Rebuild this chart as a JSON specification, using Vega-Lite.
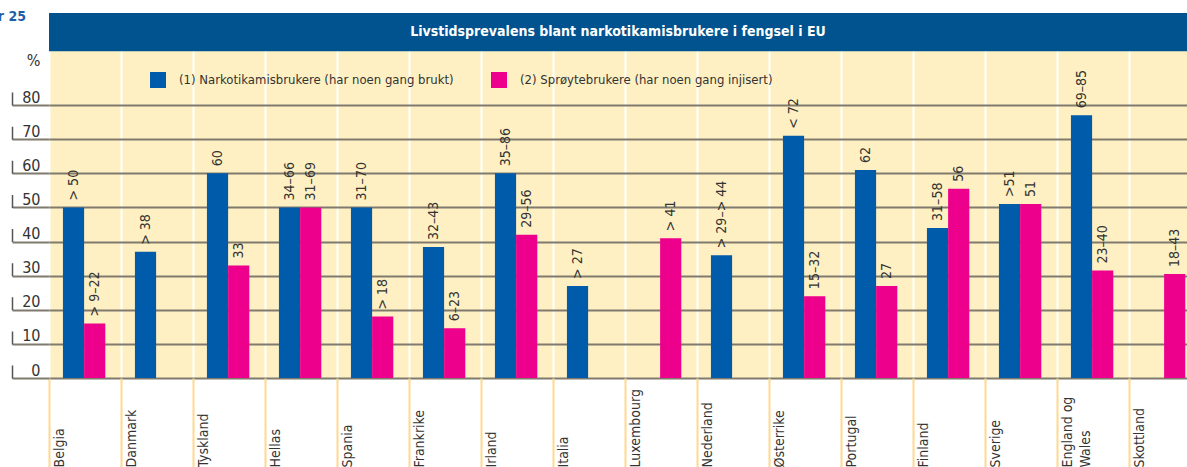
{
  "$schema": "https://vega.github.io/schema/vega-lite/v6.json",
  "width": 1138,
  "height": 365,
  "autosize": {"type": "none"},
  "padding": {"left": 49, "top": 13, "right": 0, "bottom": 89},
  "background": "#FFFFFF",
  "title": {
    "text": "Figur 25",
    "anchor": "start",
    "frame": "group",
    "align": "right",
    "dx": -23,
    "dy": 15,
    "font": "DejaVu Sans Condensed, sans-serif",
    "fontSize": 14,
    "fontWeight": "bold",
    "color": "#1F5FA8"
  },
  "config": {
    "view": {"stroke": null, "fill": "#FEF0C2"},
    "font": "DejaVu Sans Condensed, sans-serif"
  },
  "datasets": {
    "bars": [
      {"land": "Belgia", "gruppe": "(1) Narkotikamisbrukere (har noen gang brukt)", "verdi": 50, "etikett": "> 50"},
      {"land": "Belgia", "gruppe": "(2) Sprøytebrukere (har noen gang injisert)", "verdi": 16, "etikett": "> 9–22"},
      {"land": "Danmark", "gruppe": "(1) Narkotikamisbrukere (har noen gang brukt)", "verdi": 37, "etikett": "> 38"},
      {"land": "Tyskland", "gruppe": "(1) Narkotikamisbrukere (har noen gang brukt)", "verdi": 60, "etikett": "60"},
      {"land": "Tyskland", "gruppe": "(2) Sprøytebrukere (har noen gang injisert)", "verdi": 33, "etikett": "33"},
      {"land": "Hellas", "gruppe": "(1) Narkotikamisbrukere (har noen gang brukt)", "verdi": 50, "etikett": "34–66"},
      {"land": "Hellas", "gruppe": "(2) Sprøytebrukere (har noen gang injisert)", "verdi": 50, "etikett": "31–69"},
      {"land": "Spania", "gruppe": "(1) Narkotikamisbrukere (har noen gang brukt)", "verdi": 50, "etikett": "31–70"},
      {"land": "Spania", "gruppe": "(2) Sprøytebrukere (har noen gang injisert)", "verdi": 18, "etikett": "> 18"},
      {"land": "Frankrike", "gruppe": "(1) Narkotikamisbrukere (har noen gang brukt)", "verdi": 38.4, "etikett": "32–43"},
      {"land": "Frankrike", "gruppe": "(2) Sprøytebrukere (har noen gang injisert)", "verdi": 14.6, "etikett": "6–23"},
      {"land": "Irland", "gruppe": "(1) Narkotikamisbrukere (har noen gang brukt)", "verdi": 60, "etikett": "35–86"},
      {"land": "Irland", "gruppe": "(2) Sprøytebrukere (har noen gang injisert)", "verdi": 42, "etikett": "29–56"},
      {"land": "Italia", "gruppe": "(1) Narkotikamisbrukere (har noen gang brukt)", "verdi": 27, "etikett": "> 27"},
      {"land": "Luxembourg", "gruppe": "(2) Sprøytebrukere (har noen gang injisert)", "verdi": 41, "etikett": "> 41"},
      {"land": "Nederland", "gruppe": "(1) Narkotikamisbrukere (har noen gang brukt)", "verdi": 36, "etikett": "> 29–> 44"},
      {"land": "Østerrike", "gruppe": "(1) Narkotikamisbrukere (har noen gang brukt)", "verdi": 71, "etikett": "< 72"},
      {"land": "Østerrike", "gruppe": "(2) Sprøytebrukere (har noen gang injisert)", "verdi": 24, "etikett": "15–32"},
      {"land": "Portugal", "gruppe": "(1) Narkotikamisbrukere (har noen gang brukt)", "verdi": 61, "etikett": "62"},
      {"land": "Portugal", "gruppe": "(2) Sprøytebrukere (har noen gang injisert)", "verdi": 27, "etikett": "27"},
      {"land": "Finland", "gruppe": "(1) Narkotikamisbrukere (har noen gang brukt)", "verdi": 44, "etikett": "31–58"},
      {"land": "Finland", "gruppe": "(2) Sprøytebrukere (har noen gang injisert)", "verdi": 55.5, "etikett": "56"},
      {"land": "Sverige", "gruppe": "(1) Narkotikamisbrukere (har noen gang brukt)", "verdi": 51, "etikett": ">51"},
      {"land": "Sverige", "gruppe": "(2) Sprøytebrukere (har noen gang injisert)", "verdi": 51, "etikett": "51"},
      {"land": "England og Wales", "gruppe": "(1) Narkotikamisbrukere (har noen gang brukt)", "verdi": 77, "etikett": "69–85"},
      {"land": "England og Wales", "gruppe": "(2) Sprøytebrukere (har noen gang injisert)", "verdi": 31.5, "etikett": "23–40"},
      {"land": "Skottland", "gruppe": "(2) Sprøytebrukere (har noen gang injisert)", "verdi": 30.5, "etikett": "18–43"}
    ],
    "tittel": [
      {"tekst": "Livstidsprevalens blant narkotikamisbrukere i fengsel i EU"}
    ]
  },
  "layer": [
    {
      "data": {"name": "bars"},
      "mark": {"type": "bar"},
      "encoding": {
        "x": {
          "field": "land",
          "type": "nominal",
          "sort": ["Belgia", "Danmark", "Tyskland", "Hellas", "Spania", "Frankrike", "Irland", "Italia", "Luxembourg", "Nederland", "Østerrike", "Portugal", "Finland", "Sverige", "England og Wales", "Skottland"],
          "scale": {"type": "band", "paddingInner": 0, "paddingOuter": 0, "range": [0, 1152]},
          "axis": {
            "title": null,
            "domain": false,
            "ticks": true,
            "tickSize": 89,
            "tickColor": "#FFD98C",
            "tickWidth": 2,
            "bandPosition": 0,
            "grid": true,
            "gridColor": "#FFFFFF",
            "gridWidth": 2,
            "labelAngle": -90,
            "labelAlign": "left",
            "labelBaseline": "top",
            "labelPadding": 0,
            "labelOffset": -32,
            "labelFontSize": 14,
            "labelColor": "#333333",
            "labelLineHeight": 18,
            "labelOverlap": false,
            "labelBound": false,
            "labelFlush": false,
            "labelExpr": "datum.value == 'England og Wales' ? ['England og', 'Wales'] : datum.label"
          }
        },
        "xOffset": {
          "field": "gruppe",
          "type": "nominal",
          "scale": {"domain": ["(1) Narkotikamisbrukere (har noen gang brukt)", "(2) Sprøytebrukere (har noen gang injisert)"], "paddingInner": 0, "paddingOuter": 0.7, "align": 0.47}
        },
        "y": {
          "field": "verdi",
          "type": "quantitative",
          "scale": {"domain": [0, 107], "nice": false, "zero": true},
          "axis": {
            "values": [0, 10, 20, 30, 40, 50, 60, 70, 80],
            "title": "%",
            "titleAngle": 0,
            "titleX": 21,
            "titleY": 47,
            "titleAlign": "center",
            "titleBaseline": "middle",
            "titleFontWeight": "normal",
            "titleFontSize": 16,
            "titleColor": "#333333",
            "offset": 37,
            "domain": true,
            "domainColor": "#555555",
            "domainWidth": 1.5,
            "domainDash": [13, 21.125, 13, 21.125, 13, 21.125, 13, 21.125, 13, 21.125, 13, 21.125, 13, 21.125, 13, 21.125, 13, 400],
            "ticks": true,
            "tickSize": -37,
            "tickColor": "#807A6E",
            "tickWidth": 2,
            "grid": true,
            "gridColor": "#807A6E",
            "gridWidth": 2,
            "labelPadding": 9,
            "labelAlign": "right",
            "labelBaseline": "bottom",
            "labelFontSize": 16,
            "labelColor": "#333333"
          }
        },
        "color": {
          "field": "gruppe",
          "type": "nominal",
          "scale": {"domain": ["(1) Narkotikamisbrukere (har noen gang brukt)", "(2) Sprøytebrukere (har noen gang injisert)"], "range": ["#005BAA", "#EC008C"]},
          "legend": {
            "title": null,
            "orient": "none",
            "legendX": 101,
            "legendY": 59,
            "direction": "horizontal",
            "symbolType": "square",
            "symbolSize": 256,
            "symbolStrokeWidth": 0,
            "labelFontSize": 13,
            "labelColor": "#333333",
            "labelOffset": 13,
            "columnPadding": 37,
            "labelLimit": 400
          }
        }
      }
    },
    {
      "data": {"name": "bars"},
      "mark": {"type": "text", "angle": 270, "align": "left", "baseline": "middle", "dx": 7, "fontSize": 14, "color": "#333333"},
      "encoding": {
        "x": {"field": "land", "type": "nominal", "sort": ["Belgia", "Danmark", "Tyskland", "Hellas", "Spania", "Frankrike", "Irland", "Italia", "Luxembourg", "Nederland", "Østerrike", "Portugal", "Finland", "Sverige", "England og Wales", "Skottland"]},
        "xOffset": {"field": "gruppe", "type": "nominal"},
        "y": {"field": "verdi", "type": "quantitative"},
        "text": {"field": "etikett", "type": "nominal"}
      }
    },
    {
      "data": {"name": "tittel"},
      "mark": {"type": "rect", "color": "#00538E"},
      "encoding": {
        "y": {"datum": 95.8, "type": "quantitative"},
        "y2": {"datum": 107}
      }
    },
    {
      "data": {"name": "tittel"},
      "mark": {"type": "text", "color": "#FFFFFF", "fontSize": 14, "fontWeight": "bold", "align": "center", "baseline": "middle"},
      "encoding": {
        "y": {"datum": 101.4, "type": "quantitative"},
        "text": {"field": "tekst", "type": "nominal"}
      }
    }
  ]
}
